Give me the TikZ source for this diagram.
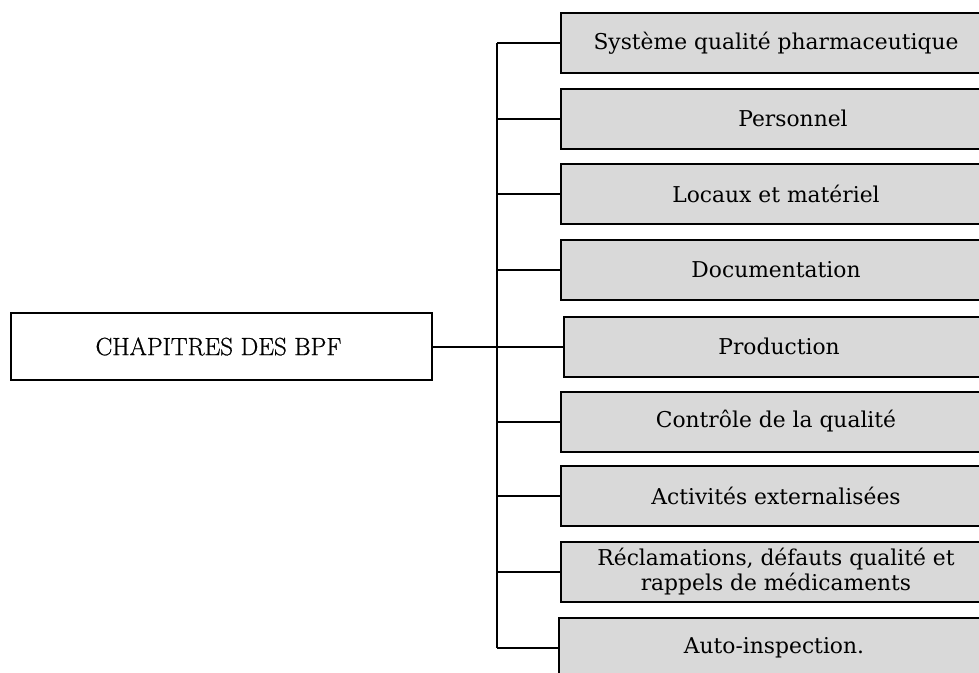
\documentclass[tikz,border=0pt]{standalone}
\usepackage{fontspec}
\newfontfamily\boxfont{DejaVu Serif}
\newfontfamily\rootfont{Latin Modern Roman}[FakeBold=0.8]
\definecolor{boxgray}{HTML}{D9D9D9}
\begin{document}
\begin{tikzpicture}[x=1pt,y=-1pt,
  chap/.style={draw=black, line width=2pt, fill=boxgray, minimum width=430pt, minimum height=60pt,
    inner sep=0pt, outer sep=0pt, align=center, font=\boxfont\fontsize{21.8}{25}\selectfont},
  root/.style={draw=black, line width=2pt, fill=white, minimum width=421pt, minimum height=67pt,
    inner sep=0pt, outer sep=0pt, font=\rootfont\fontsize{25}{28}\selectfont},
  link/.style={draw=black, line width=2pt}]
\useasboundingbox (0,0) rectangle (979,672);
\clip (0,0) rectangle (979,672);

\node[root] (lb) at (221.5,346.5) {CHAPITRES DES BPF\hspace*{6pt}};

\node[chap] (b1) at (776,43) {Système qualité pharmaceutique};
\node[chap] (b2) at (776,118.5) {\hspace*{34pt}Personnel};
\node[chap] (b3) at (776,194) {Locaux et matériel};
\node[chap] (b4) at (776,270) {Documentation};
\node[chap] (b5) at (779,346.5) {Production};
\node[chap] (b6) at (776,421.5) {Contrôle de la qualité};
\node[chap] (b7) at (776,496) {Activités externalisées};
\node[chap] (b8) at (776,572) {Réclamations, défauts qualité et\\rappels de médicaments};
\node[chap] (b9) at (774,648) {Auto-inspection.};

\coordinate (j1) at (497,43);
\coordinate (j2) at (497,118.5);
\coordinate (j3) at (497,194);
\coordinate (j4) at (497,270);
\coordinate (j5) at (497,346.5);
\coordinate (j6) at (497,421.5);
\coordinate (j7) at (497,496);
\coordinate (j8) at (497,572);
\coordinate (j9) at (497,648);

\draw[link] (j1) -- (j9);
\draw[link] (lb.east) -- (j5);
\foreach \i in {1,...,9} {\draw[link] (j\i) -- (b\i.west);}
\end{tikzpicture}
\end{document}
